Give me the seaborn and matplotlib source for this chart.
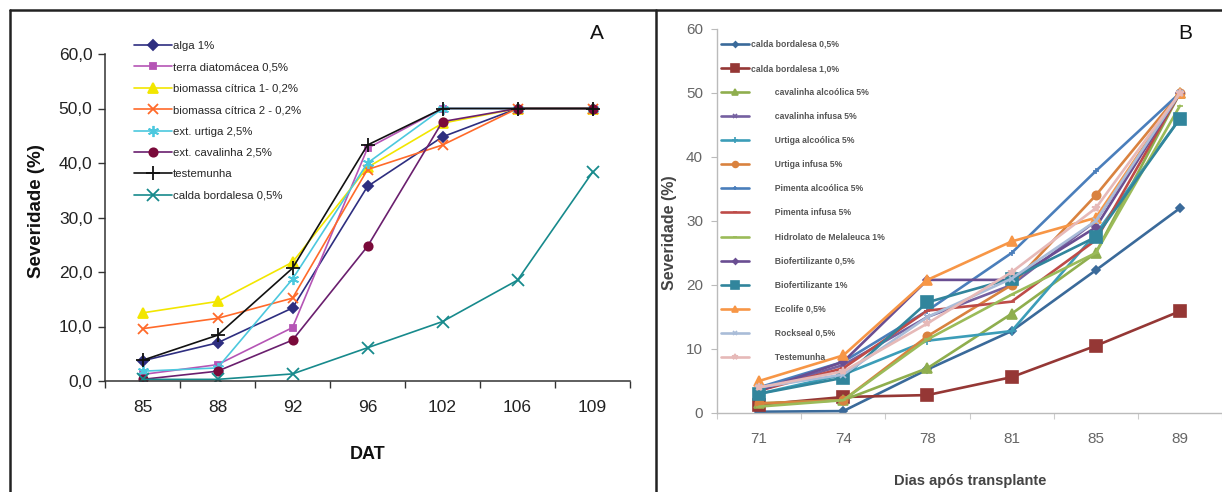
import matplotlib
matplotlib.use("Agg")
import matplotlib.pyplot as plt
from matplotlib.lines import Line2D
from matplotlib.ticker import FixedLocator, FuncFormatter
import pandas as pd
import seaborn as sns

# --------------------------------------------------------------------------- #
# Data — panel A
# --------------------------------------------------------------------------- #
dat_a = ["85", "88", "92", "96", "102", "106", "109"]
trat_a = ["alga 1%", "terra diatomácea 0,5%", "biomassa cítrica 1- 0,2%",
          "biomassa cítrica 2 - 0,2%", "ext. urtiga 2,5%", "ext. cavalinha 2,5%",
          "testemunha", "calda bordalesa 0,5%"]
alga = [3.7, 7.0, 13.4, 35.7, 44.8, 50.0, 50.0]
terra = [1.2, 3.0, 9.8, 42.7, 50.0, 50.0, 50.0]
biom1 = [12.5, 14.6, 21.8, 39.2, 47.3, 50.0, 50.0]
biom2 = [9.6, 11.5, 15.2, 38.8, 43.3, 50.0, 50.0]
urtiga = [1.8, 2.4, 18.7, 40.0, 50.0, 50.0, 50.0]
cavalinha = [0.3, 1.8, 7.5, 24.7, 47.6, 50.0, 50.0]
testemunha_a = [3.8, 8.4, 20.7, 43.3, 50.0, 50.0, 50.0]
calda_a = [0.3, 0.3, 1.3, 6.1, 10.9, 18.5, 38.3]
vals_a = [alga, terra, biom1, biom2, urtiga, cavalinha, testemunha_a, calda_a]

# --------------------------------------------------------------------------- #
# Data — panel B
# --------------------------------------------------------------------------- #
dat_b = ["71", "74", "78", "81", "85", "89"]
trat_b = ["calda bordalesa 0,5%", "calda bordalesa 1,0%", "cavalinha alcoólica 5%",
          "cavalinha infusa 5%", "Urtiga alcoólica 5%", "Urtiga infusa 5%",
          "Pimenta alcoólica 5%", "Pimenta infusa 5%", "Hidrolato de Melaleuca 1%",
          "Biofertilizante 0,5%", "Biofertilizante 1%", "Ecolife 0,5%",
          "Rockseal 0,5%", "Testemunha"]
calda05 = [0.2, 0.3, 6.8, 12.8, 22.3, 32.0]
calda10 = [1.3, 2.5, 2.8, 5.6, 10.5, 15.9]
cav_alc = [1.5, 2.0, 7.0, 15.5, 25.0, 50.0]
cav_inf = [3.5, 7.5, 15.0, 20.0, 30.0, 50.0]
urt_alc = [3.0, 6.0, 11.3, 12.8, 28.0, 46.0]
urt_inf = [1.5, 2.0, 12.0, 20.0, 34.0, 50.0]
pim_alc = [4.0, 8.0, 16.0, 25.0, 37.8, 50.0]
pim_inf = [3.5, 7.0, 16.0, 17.4, 27.0, 50.0]
hidro = [1.0, 2.0, 11.5, 18.5, 25.0, 48.0]
bio05 = [3.5, 8.0, 20.8, 20.8, 29.0, 50.0]
bio1 = [3.0, 5.5, 17.3, 21.0, 27.5, 46.0]
ecolife = [5.0, 9.0, 20.8, 26.8, 30.5, 50.0]
rockseal = [4.0, 6.0, 15.0, 21.0, 30.0, 50.0]
testemunha_b = [4.0, 6.5, 14.0, 22.0, 32.0, 50.0]
vals_b = [calda05, calda10, cav_alc, cav_inf, urt_alc, urt_inf, pim_alc, pim_inf,
          hidro, bio05, bio1, ecolife, rockseal, testemunha_b]


def long_df(days, names, series):
    rows = []
    for name, ys in zip(names, series):
        for i, (d, y) in enumerate(zip(days, ys)):
            rows.append({"trat": name, "pos": i, "dia": d, "sev": y})
    return pd.DataFrame(rows)


df_a = long_df(dat_a, trat_a, vals_a)
df_b = long_df(dat_b, trat_b, vals_b)

sns.set_theme(style="white")
narrow = ["Liberation Sans Narrow", "Liberation Sans", "DejaVu Sans"]
plt.rcParams["font.family"] = ["Liberation Sans", "DejaVu Sans"]

fig = plt.figure(figsize=(12.22, 4.92), dpi=100)
W, H = 1222, 492

# --------------------------------------------------------------------------- #
# Panel A
# --------------------------------------------------------------------------- #
ax = fig.add_axes([105 / W, 1 - 381 / H, 525 / W, 327 / H])
style_a = [
    ("#2E2E80", "D", 5, "#2E2E80"),
    ("#B555B5", "s", 5, "#B555B5"),
    ("#F2E600", "^", 7, "#F2E600"),
    ("#FF6A2A", "x", 7, "#FF6A2A"),
    ("#4CC8DE", (6, 2, 0), 8, "#4CC8DE"),
    ("#6A1F6E", "o", 6, "#7A0A3A"),
    ("#111111", "+", 10, "#111111"),
    ("#178A8C", "x", 8, "#178A8C"),
]
for name, (c, m, ms, mc) in zip(trat_a, style_a):
    sns.lineplot(data=df_a[df_a["trat"] == name], x="pos", y="sev", ax=ax,
                 color=c, marker=m, markersize=ms, markerfacecolor=mc,
                 markeredgecolor=mc, markeredgewidth=1.3, lw=1.2, label=name)

ax.set_xlim(-0.5, len(dat_a) - 0.5)
ax.set_ylim(0, 60)
ax.set_yticks([0, 10, 20, 30, 40, 50, 60])
ax.yaxis.set_major_formatter(FuncFormatter(lambda v, p: f"{v:.1f}".replace(".", ",")))
ax.set_xticks(range(len(dat_a)))
ax.set_xticklabels(dat_a)
ax.xaxis.set_minor_locator(FixedLocator([i - 0.5 for i in range(len(dat_a) + 1)]))
ax.tick_params(axis="x", which="major", length=0, pad=14, labelsize=12.5, colors="#222")
ax.tick_params(axis="x", which="minor", length=5, width=1, color="#333", direction="out", bottom=True)
ax.tick_params(axis="y", length=5, width=1, color="#333", direction="out", left=True,
               labelsize=12.5, labelcolor="#222", pad=4)
for lab in ax.get_xticklabels() + ax.get_yticklabels():
    lab.set_family(narrow)
for s in ["top", "right"]:
    ax.spines[s].set_visible(False)
for s in ["left", "bottom"]:
    ax.spines[s].set_color("#333")
    ax.spines[s].set_linewidth(1.1)
ax.set_xlabel("DAT", fontsize=13, fontweight="bold", color="#111")
ax.set_ylabel("Severidade (%)", fontsize=13.5, fontweight="bold", color="#111")
ax.xaxis.set_label_coords(0.501, -0.20)
ax.yaxis.set_label_coords(-0.114, 0.52)
ax.legend(loc="upper left", bbox_to_anchor=(134 / W, 1 - 41 / H),
          bbox_transform=fig.transFigure, frameon=False,
          handlelength=3.3, handletextpad=0.1, labelspacing=1.0, borderpad=0,
          borderaxespad=0, prop={"family": narrow, "size": 8.2})
fig.text(597 / W, 1 - 33 / H, "A", fontsize=15, ha="center", va="center", color="#111")

# --------------------------------------------------------------------------- #
# Panel B
# --------------------------------------------------------------------------- #
bx = fig.add_axes([717 / W, 1 - 413 / H, 505 / W, 384 / H])
style_b = [
    ("#3A6A9A", "D", 4),
    ("#953735", "s", 8),
    ("#8FAE4E", "^", 7),
    ("#7560A0", "x", 5),
    ("#3C9DB8", "+", 6),
    ("#D9823F", "o", 6),
    ("#4A7EBB", "+", 5),
    ("#BE4B48", "_", 5),
    ("#9BBB59", "_", 5),
    ("#6A4E92", "D", 4),
    ("#31859C", "s", 8),
    ("#F79646", "^", 7),
    ("#A9BCD8", "x", 5),
    ("#E6B9B8", "*", 6),
]
for name, (c, m, ms) in zip(trat_b, style_b):
    sns.lineplot(data=df_b[df_b["trat"] == name], x="pos", y="sev", ax=bx,
                 color=c, marker=m, markersize=ms, markerfacecolor=c,
                 markeredgecolor=c, markeredgewidth=1.2, lw=1.9, label=name)

bx.set_xlim(-0.5, len(dat_b) - 0.5)
bx.set_ylim(0, 60)
bx.set_yticks([0, 10, 20, 30, 40, 50, 60])
bx.set_xticks(range(len(dat_b)))
bx.set_xticklabels(dat_b)
bx.xaxis.set_minor_locator(FixedLocator([i - 0.5 for i in range(len(dat_b) + 1)]))
bx.tick_params(axis="x", which="major", length=0, pad=14, labelsize=11, colors="#666")
bx.tick_params(axis="x", which="minor", length=4, width=0.8, color="#ccc", direction="out", bottom=True)
bx.tick_params(axis="y", length=4, width=0.8, color="#bbb", direction="out", left=True,
               labelsize=11, labelcolor="#666", pad=6)
for lab in bx.get_xticklabels() + bx.get_yticklabels():
    lab.set_family(narrow)
for s in ["top", "right"]:
    bx.spines[s].set_visible(False)
for s in ["left", "bottom"]:
    bx.spines[s].set_color("#bbbbbb")
    bx.spines[s].set_linewidth(1.0)
bx.set_xlabel("Dias após transplante", fontsize=10.5, fontweight="bold", color="#444")
bx.set_ylabel("Severidade (%)", fontsize=11.5, fontweight="bold", color="#444")
bx.xaxis.set_label_coords(0.501, -0.16)
bx.yaxis.set_label_coords(-0.08, 0.47)
leg = bx.legend(loc="upper left", bbox_to_anchor=(721 / W, 1 - 40 / H),
                bbox_transform=fig.transFigure, frameon=False, markerscale=0.7,
                handlelength=3.3, handletextpad=0.2, labelspacing=1.75, borderpad=0,
                borderaxespad=0, prop={"family": narrow, "size": 6.2, "weight": "bold"})
for i, t in enumerate(leg.get_texts()):
    t.set_color("#555")
    if i >= 2:
        t.set_text("          " + t.get_text())
fig.text(1185 / W, 1 - 33 / H, "B", fontsize=15, ha="center", va="center", color="#111")

# --------------------------------------------------------------------------- #
# Frame lines around the two panels
# --------------------------------------------------------------------------- #
frame = dict(color="#222222", lw=1.8, transform=fig.transFigure)
fig.add_artist(Line2D([10 / W, 10 / W], [0, 1 - 10 / H], **frame))
fig.add_artist(Line2D([10 / W, 1], [1 - 10 / H, 1 - 10 / H], **frame))
fig.add_artist(Line2D([656 / W, 656 / W], [0, 1 - 10 / H], **frame))

fig.savefig("out.png", dpi=100)
